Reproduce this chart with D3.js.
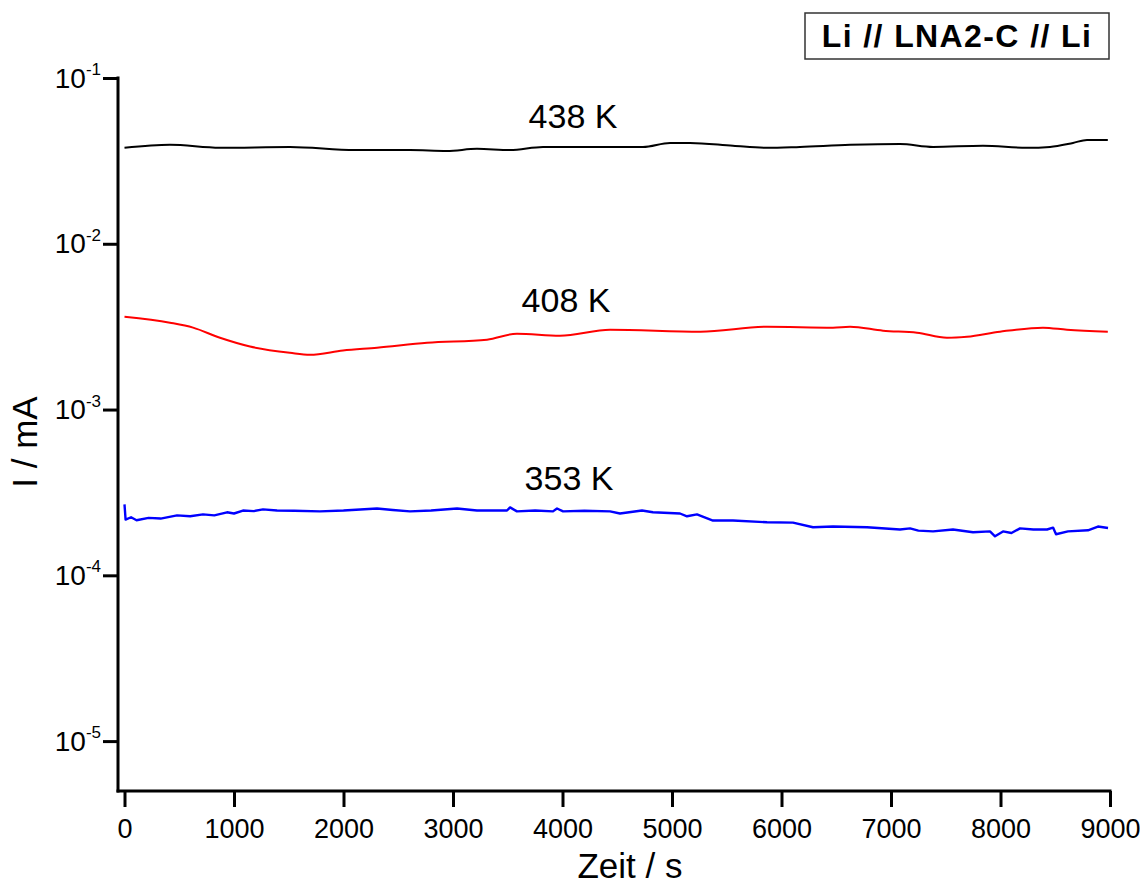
<!DOCTYPE html>
<html>
<head>
<meta charset="utf-8">
<script src="https://cdn.jsdelivr.net/npm/d3@7"></script>
<style>
  body { margin: 0; background: #fff; }
  svg { display: block; }
  text { font-family: "Liberation Sans", Arial, Helvetica, sans-serif; fill: #000; }
</style>
</head>
<body>
<svg id="chart" width="1140" height="885"></svg>
<script>
// Time axis ticks (s)
const xMajorTicks = [0, 1000, 2000, 3000, 4000, 5000, 6000, 7000, 8000, 9000];
const xMinorTicks = [500, 1500, 2500, 3500, 4500, 5500, 6500, 7500, 8500];

// Current axis decades (mA) and their exponent labels
const yDecades = [1e-1, 1e-2, 1e-3, 1e-4, 1e-5];
const yExponents = ["-1", "-2", "-3", "-4", "-5"];

// 438 K
const time438 = [0, 415, 872, 1511, 2105, 2607, 2945, 3219, 3521, 3822, 4342, 4735, 4982, 5164, 5557, 5868, 6169, 6626, 7082, 7384, 7840, 8242, 8452, 8662, 8790, 8980];
const current438 = [0.0379, 0.0395, 0.0379, 0.0384, 0.0368, 0.0368, 0.0363, 0.0374, 0.0368, 0.0384, 0.0384, 0.0384, 0.0406, 0.0406, 0.0390, 0.0379, 0.0384, 0.0395, 0.0400, 0.0384, 0.0390, 0.0379, 0.0384, 0.0406, 0.0423, 0.0423];

// 408 K
const time408 = [0, 415, 626, 872, 1146, 1511, 1694, 1995, 2306, 2763, 3311, 3584, 3977, 4434, 5260, 5868, 6470, 6626, 6927, 7237, 7511, 7694, 7995, 8388, 8607, 8980];
const current408 = [0.00363, 0.00334, 0.00312, 0.00271, 0.00240, 0.00220, 0.00214, 0.00227, 0.00236, 0.00253, 0.00264, 0.00287, 0.00279, 0.00303, 0.00295, 0.00316, 0.00312, 0.00316, 0.00299, 0.00291, 0.00271, 0.00275, 0.00295, 0.00312, 0.00303, 0.00295];

// 353 K
const time353 = [0, 10, 60, 110, 220, 330, 480, 600, 717, 820, 936, 1000, 1082, 1180, 1265, 1393, 1550, 1785, 2000, 2306, 2450, 2607, 2800, 3037, 3219, 3493, 3521, 3584, 3750, 3913, 3950, 4005, 4200, 4434, 4525, 4726, 4826, 5073, 5137, 5228, 5374, 5557, 5868, 6105, 6288, 6470, 6781, 7082, 7174, 7250, 7384, 7566, 7749, 7904, 7950, 8023, 8100, 8178, 8300, 8425, 8480, 8507, 8616, 8799, 8890, 8982];
const current353 = [2.68e-4, 2.17e-4, 2.24e-4, 2.15e-4, 2.22e-4, 2.20e-4, 2.30e-4, 2.27e-4, 2.33e-4, 2.30e-4, 2.40e-4, 2.36e-4, 2.46e-4, 2.44e-4, 2.50e-4, 2.46e-4, 2.45e-4, 2.43e-4, 2.46e-4, 2.53e-4, 2.48e-4, 2.43e-4, 2.46e-4, 2.53e-4, 2.46e-4, 2.46e-4, 2.57e-4, 2.43e-4, 2.46e-4, 2.43e-4, 2.53e-4, 2.43e-4, 2.45e-4, 2.43e-4, 2.36e-4, 2.46e-4, 2.40e-4, 2.36e-4, 2.27e-4, 2.33e-4, 2.14e-4, 2.14e-4, 2.09e-4, 2.08e-4, 1.95e-4, 1.97e-4, 1.95e-4, 1.89e-4, 1.92e-4, 1.86e-4, 1.84e-4, 1.89e-4, 1.82e-4, 1.84e-4, 1.72e-4, 1.84e-4, 1.80e-4, 1.92e-4, 1.89e-4, 1.89e-4, 1.94e-4, 1.77e-4, 1.84e-4, 1.87e-4, 1.97e-4, 1.93e-4];

const seriesNames = ["438 K", "408 K", "353 K"];
const seriesColors = ["#000000", "#ff0000", "#0000ff"];
const legendTitle = "Li // LNA2-C // Li";

const svg = d3.select("#chart");

const axisLeftX = 118;
const axisBottomY = 791;

const x = d3.scaleLinear().domain([0, 9000]).range([124.5, 1110]);
const y = d3.scaleLog().domain([5e-6, 0.1]).range([axisBottomY, 78]);

// Minor y ticks: 2..9 within each decade
const yMinorTicks = [];
[1e-6, 1e-5, 1e-4, 1e-3, 1e-2].forEach(d => {
  for (let m = 2; m <= 9; m++) {
    const v = d * m;
    if (v >= 5e-6 && v < 0.1) yMinorTicks.push(v);
  }
});

const axisStroke = 3;

// X axis
const gx = svg.append("g").attr("transform", `translate(0,${axisBottomY})`);
gx.call(d3.axisBottom(x).tickValues(xMinorTicks).tickSize(8).tickFormat(""));
gx.call(d3.axisBottom(x).tickValues(xMajorTicks).tickSize(16).tickFormat(d3.format("d")));
gx.selectAll(".domain").remove();
gx.selectAll("line").attr("stroke", "#000").attr("stroke-width", axisStroke);
gx.selectAll("text")
  .attr("y", 47).attr("dy", 0)
  .style("font-size", "27px")
  .style("font-family", "\"Liberation Sans\", Arial, sans-serif");
svg.append("line")
  .attr("x1", axisLeftX - 1.5).attr("x2", x(9000) + 1.5)
  .attr("y1", axisBottomY).attr("y2", axisBottomY)
  .attr("stroke", "#000").attr("stroke-width", axisStroke);

// Y axis
const gy = svg.append("g").attr("transform", `translate(${axisLeftX},0)`);
gy.call(d3.axisLeft(y).tickValues(yMinorTicks).tickSize(8).tickFormat(""));
gy.call(d3.axisLeft(y).tickValues(yDecades).tickSize(15).tickFormat(""));
gy.selectAll(".domain").remove();
gy.selectAll("line").attr("stroke", "#000").attr("stroke-width", axisStroke);
svg.append("line")
  .attr("x1", axisLeftX).attr("x2", axisLeftX)
  .attr("y1", y(0.1) - 1.5).attr("y2", axisBottomY + 1.5)
  .attr("stroke", "#000").attr("stroke-width", axisStroke);

// Y tick labels as 10 with superscript exponent
yDecades.forEach((d, i) => {
  const t = svg.append("text")
    .attr("x", 101)
    .attr("y", y(d) + 9.5)
    .attr("text-anchor", "end");
  t.append("tspan").style("font-size", "28px").text("10");
  t.append("tspan").style("font-size", "17px").attr("dy", -12.5).text(yExponents[i]);
});

// Axis titles
svg.append("text")
  .attr("x", 630).attr("y", 878)
  .attr("text-anchor", "middle")
  .style("font-size", "35px")
  .text("Zeit / s");

svg.append("text")
  .attr("transform", "translate(37,442) rotate(-90)")
  .attr("text-anchor", "middle")
  .style("font-size", "35px")
  .text("I / mA");

// Curves
const seriesData = [
  time438.map((t, i) => [t, current438[i]]),
  time408.map((t, i) => [t, current408[i]]),
  time353.map((t, i) => [t, current353[i]])
];
const curves = [d3.curveMonotoneX, d3.curveMonotoneX, d3.curveLinear];
const widths = [2, 2, 2.4];

seriesData.forEach((data, i) => {
  const line = d3.line().x(d => x(d[0])).y(d => y(d[1])).curve(curves[i]);
  svg.append("path")
    .datum(data)
    .attr("d", line)
    .attr("fill", "none")
    .attr("stroke", seriesColors[i])
    .attr("stroke-width", widths[i])
    .attr("stroke-linejoin", "round");
});

// Temperature labels
const labelPos = [[573, 128], [566, 312], [569, 490]];
seriesNames.forEach((name, i) => {
  svg.append("text")
    .attr("x", labelPos[i][0]).attr("y", labelPos[i][1])
    .attr("text-anchor", "middle")
    .style("font-size", "34px")
    .text(name);
});

// Title box
svg.append("rect")
  .attr("x", 805).attr("y", 13)
  .attr("width", 304).attr("height", 46)
  .attr("fill", "#fff")
  .attr("stroke", "#333").attr("stroke-width", 1.5);
svg.append("text")
  .attr("x", 957).attr("y", 47)
  .attr("text-anchor", "middle")
  .style("font-size", "32px")
  .style("font-weight", "bold")
  .style("letter-spacing", "1.4px")
  .text(legendTitle);
</script>
</body>
</html>
